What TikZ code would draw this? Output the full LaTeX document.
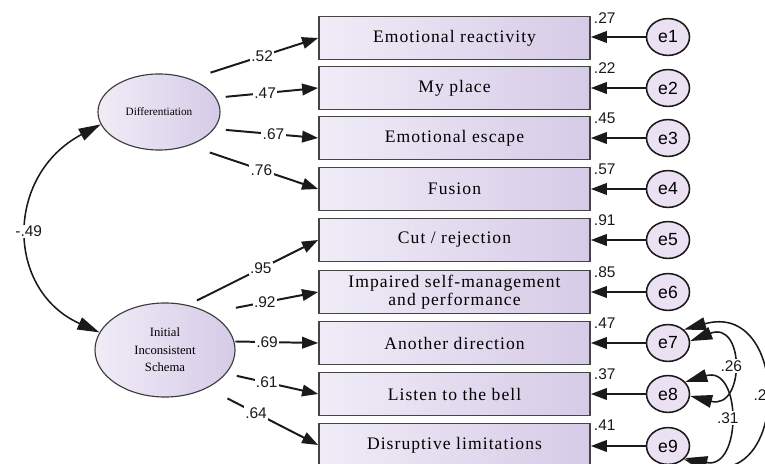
\documentclass[tikz,border=0pt]{standalone}
\usepackage{fontspec}
\setmainfont{Liberation Serif}
\newfontfamily\itemfont[LetterSpace=6]{Liberation Serif}
\newfontfamily\numfont{Liberation Sans}
\usetikzlibrary{arrows.meta,shapes.geometric}
\definecolor{lavlight}{HTML}{F0ECF7}
\definecolor{lavdark} {HTML}{D6CBE7}
\definecolor{errfill} {HTML}{ECE0F3}
\definecolor{edgegray}{HTML}{454545}
\definecolor{ink}     {HTML}{1A1A1A}
\tikzset{
  itembox/.style ={draw=edgegray, line width=1.2pt, left color=lavlight, right color=lavdark,
                   minimum width=6.775cm, minimum height=1.075cm, inner sep=0pt,
                   align=center, font=\itemfont\fontsize{12.5}{12.6}\selectfont},
  latent/.style  ={ellipse, draw=ink!85, line width=0.8pt, left color=lavlight, right color=lavdark,
                   inner sep=0pt, align=center},
  errnode/.style ={ellipse, draw=ink, line width=1.1pt, fill=errfill,
                   minimum width=1.075cm, minimum height=0.92cm, inner sep=0pt,
                   font=\numfont\fontsize{12.5}{14}\selectfont},
  patharr/.style ={-{Triangle[length=4mm,width=2.9mm]}, line width=1.4pt, color=ink},
  covarr/.style  ={{Triangle[length=5.5mm,width=3.2mm]}-{Triangle[length=5.5mm,width=3.2mm]},
                   line width=1.1pt, color=ink},
  coef/.style    ={fill=white, inner sep=1pt, text=ink, font=\numfont\fontsize{11}{13}\selectfont},
  rsq/.style     ={anchor=west, inner sep=1pt, text=ink, font=\numfont\fontsize{11}{13}\selectfont},
}

\begin{document}
\begin{tikzpicture}[x=0.025cm,y=-0.025cm]
    \useasboundingbox (0,0) rectangle (765,464);
    \fill[white] (0,0) rectangle (765,464);
    \clip (0,0) rectangle (765,464);

    % ----- observed items -----
    \node[itembox] (b1) at (454.5,38)  {Emotional reactivity};
    \node[itembox] (b2) at (454.5,88)  {My place};
    \node[itembox] (b3) at (454.5,138) {Emotional escape};
    \node[itembox] (b4) at (454.5,189) {Fusion};
    \node[itembox] (b5) at (454.5,240) {Cut / rejection};
    \node[itembox] (b6) at (454.5,292) {Impaired self-management\\and performance};
    \node[itembox] (b7) at (454.5,343) {Another direction};
    \node[itembox] (b8) at (454.5,394) {Listen to the bell};
    \node[itembox] (b9) at (454.5,445) {Disruptive limitations};

    % ----- squared multiple correlations -----
    \node[rsq] at ([shift={(1pt,-1.8pt)}]b1.north east) {.27};
    \node[rsq] at ([shift={(1pt,-1.8pt)}]b2.north east) {.22};
    \node[rsq] at ([shift={(1pt,-1.8pt)}]b3.north east) {.45};
    \node[rsq] at ([shift={(1pt,-1.8pt)}]b4.north east) {.57};
    \node[rsq] at ([shift={(1pt,-1.8pt)}]b5.north east) {.91};
    \node[rsq] at ([shift={(1pt,-1.8pt)}]b6.north east) {.85};
    \node[rsq] at ([shift={(1pt,-1.8pt)}]b7.north east) {.47};
    \node[rsq] at ([shift={(1pt,-1.8pt)}]b8.north east) {.37};
    \node[rsq] at ([shift={(1pt,-1.8pt)}]b9.north east) {.41};

    % ----- error terms -----
    \node[errnode] (e1) at (668,37)  {e1};
    \node[errnode] (e2) at (668,88)  {e2};
    \node[errnode] (e3) at (668,138) {e3};
    \node[errnode] (e4) at (668,189) {e4};
    \node[errnode] (e5) at (668,240) {e5};
    \node[errnode] (e6) at (668,292) {e6};
    \node[errnode] (e7) at (668,343) {e7};
    \node[errnode] (e8) at (668,394) {e8};
    \node[errnode] (e9) at (668,446) {e9};

    \draw[patharr] (e1.west) -- (e1.west -| b1.east);
    \draw[patharr] (e2.west) -- (b2.east);
    \draw[patharr] (e3.west) -- (b3.east);
    \draw[patharr] (e4.west) -- (b4.east);
    \draw[patharr] (e5.west) -- (b5.east);
    \draw[patharr] (e6.west) -- (b6.east);
    \draw[patharr] (e7.west) -- (b7.east);
    \draw[patharr] (e8.west) -- (b8.east);
    \draw[patharr] (e9.west) -- (e9.west -| b9.east);

    % ----- latent factors -----
    \node[latent, minimum width=3.05cm, minimum height=1.9cm,
          font=\fontsize{8}{10}\selectfont] (diff) at (159,112) {Differentiation};
    \node[latent, minimum width=3.5cm, minimum height=2.35cm,
          font=\fontsize{9}{12.4}\selectfont] (init) at (165,350) {Initial\\Inconsistent\\Schema};

    % loadings
    \draw[patharr, shorten <=14.7pt] (diff.46)  -- node[coef,pos=.56]{.52} (b1.west);
    \draw[patharr, shorten <=6.8pt]  (diff.14)  -- node[coef,pos=.48]{.47} (b2.west);
    \draw[patharr, shorten <=8.2pt]  (diff.-17) -- node[coef,pos=.57]{.67} (b3.west);
    \draw[patharr, shorten <=15.4pt] (diff.-48) -- node[coef,pos=.56]{.76} (b4.west);

    \draw[patharr, shorten <=7.2pt]  (init.63)  -- node[coef,pos=.56]{.95} (b5.west);
    \draw[patharr, shorten <=19.3pt] (init.40)  -- node[coef,pos=.51]{.92} (b6.west);
    \draw[patharr, shorten <=0.7pt]  (init.7)   -- node[coef,pos=.39]{.69} (b7.west);
    \draw[patharr, shorten <=7.6pt]  (init.-21) -- node[coef,pos=.44]{.61} (b8.west);
    \draw[patharr, shorten <=16.1pt] (init.-42) -- node[coef,pos=.44]{.64} (b9.west);

    % ----- covariances -----
    \draw[covarr] (diff.192) .. controls (5,175) and (5,290) .. node[coef,pos=.5]{-.49} (init.165);

    \draw[covarr] (e7.5)  .. controls (745,320) and (745,410) .. node[coef,pos=.5]{.26} (e8.-5);
    \draw[covarr] (e8.35) .. controls (742,365) and (742,470) .. node[coef,pos=.5]{.31} (e9.-35);
    \draw[covarr] (e7.40) .. controls (790,300) and (790,490) .. node[coef,pos=.5,xshift=-2.5pt]{.2} (e9.-40);
\end{tikzpicture}
\end{document}
